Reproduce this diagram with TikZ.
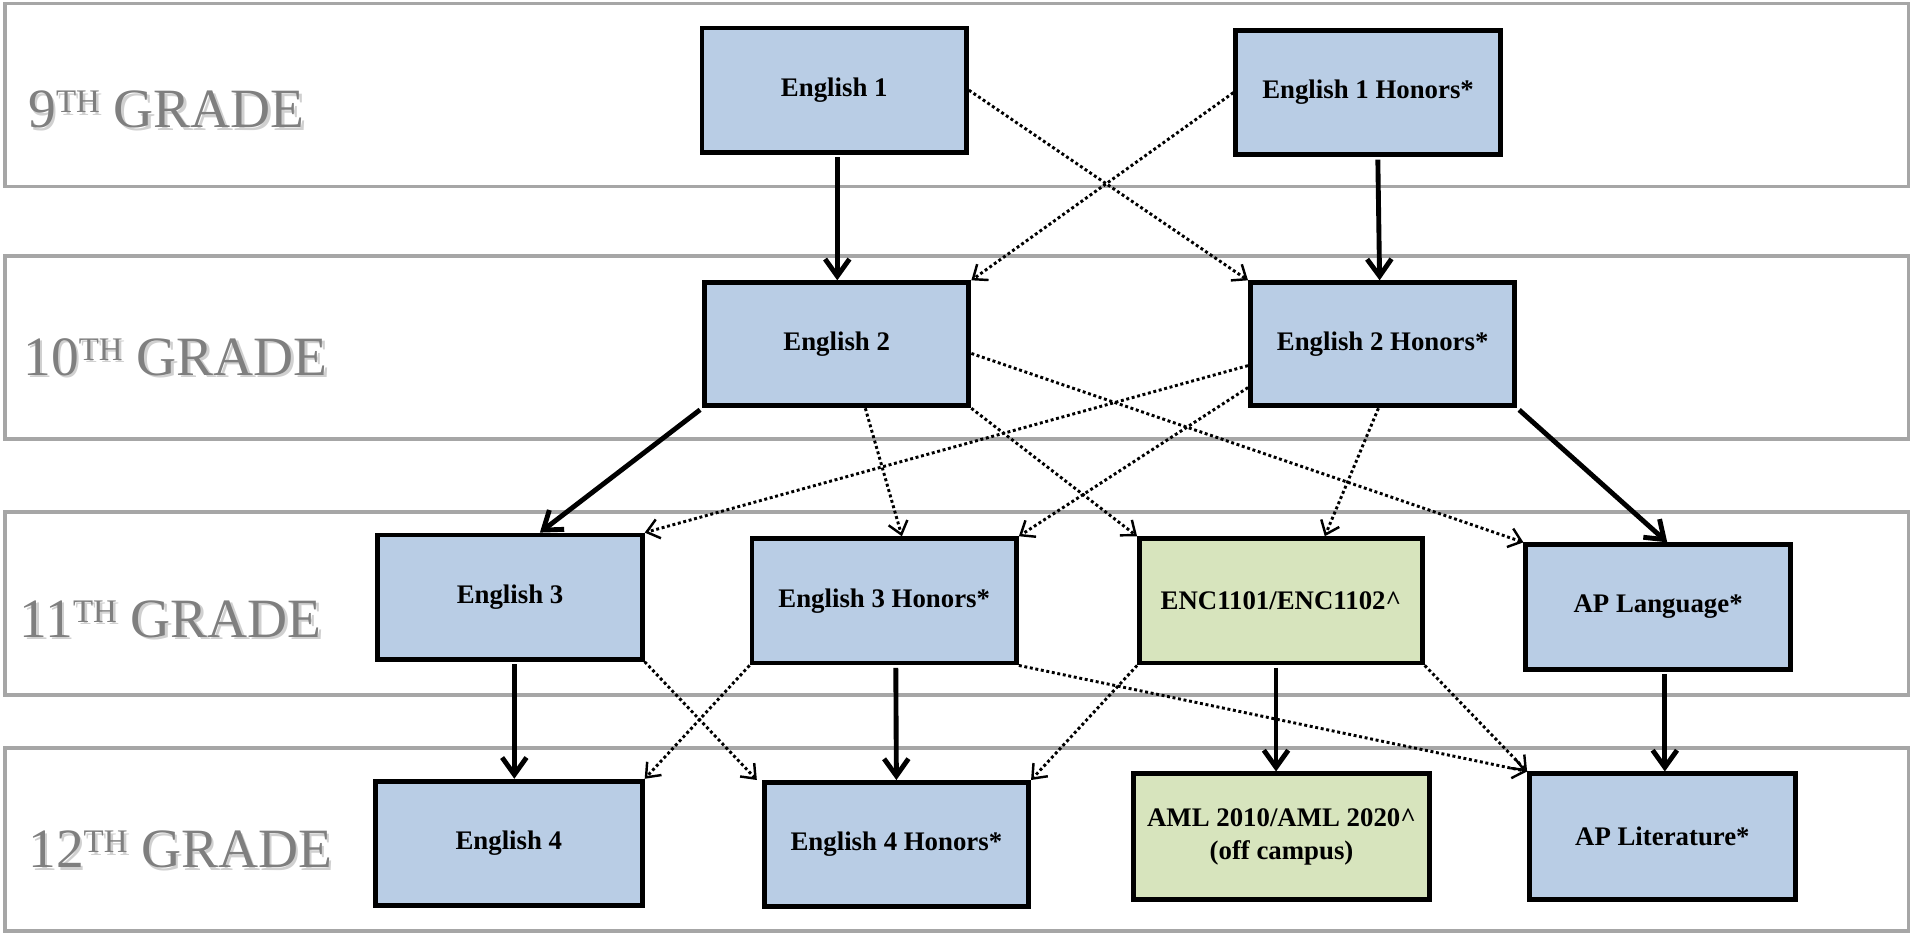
\documentclass[tikz,border=0pt]{standalone}
\usepackage{fontspec}
\setmainfont{Liberation Serif}
\usetikzlibrary{arrows.meta,calc}
\definecolor{boxblue}{HTML}{B9CDE5}
\definecolor{boxgreen}{HTML}{D7E4BD}
\definecolor{bandgray}{HTML}{A6A6A6}
\definecolor{labelgray}{HTML}{7F7F7F}
\definecolor{shadowgray}{HTML}{D0D0D0}
\newcommand\gradetxt[1]{#1\raisebox{12.4pt}{\fontsize{27}{30}\selectfont TH} GRADE}
\begin{document}
\begin{tikzpicture}[x=1pt,y=-1pt,
  course/.style={draw=black, line width=4pt, fill=boxblue, inner sep=0pt,
    minimum width=217pt, minimum height=102pt, align=center,
    font=\fontsize{22}{27}\selectfont\bfseries},
  college/.style={course, fill=boxgreen},
  band/.style={draw=bandgray, line width=3pt},
  gradelbl/.style={anchor=base west, inner sep=0pt, text=labelgray,
    font=\fontsize{45.5}{50}\selectfont},
  gradeshadow/.style={gradelbl, text=shadowgray},
  solidarrow/.style={line width=4pt, shorten <=2pt,
    -{Straight Barb[length=14pt,width=20pt]}},
  dotarrow/.style={line width=2.4pt, dash pattern=on 2.4pt off 2.2pt,
    -{Straight Barb[length=10pt,width=16pt,line width=2pt]}}
]
\useasboundingbox (0,0) rectangle (1568,766);
\fill[white] (0,0) rectangle (1568,766);

% grade bands
\draw[band] (4,3) rectangle (1566,153);
\draw[band] (4,210) rectangle (1566,360);
\draw[band] (4,420) rectangle (1566,570);
\draw[band] (4,614) rectangle (1566,764);

% grade labels (shadow + text)
\node[gradeshadow] (g9s)  at (25,107) {\gradetxt{9}};
\node[gradelbl]    (g9)   at (23,105) {\gradetxt{9}};
\node[gradeshadow] (g10s) at (21,310) {\gradetxt{10}};
\node[gradelbl]    (g10)  at (19,308) {\gradetxt{10}};
\node[gradeshadow] (g11s) at (18,525) {\gradetxt{11}};
\node[gradelbl]    (g11)  at (16,523) {\gradetxt{11}};
\node[gradeshadow] (g12s) at (25,714) {\gradetxt{12}};
\node[gradelbl]    (g12)  at (23,712) {\gradetxt{12}};

% courses
\node[course] (e1)   at (684.5,74)   {English 1};
\node[course] (e1h)  at (1122.5,76)  {English 1 Honors*};
\node[course, minimum height=101pt] (e2)   at (686.5,282.5) {English 2};
\node[course, minimum height=101pt] (e2h)  at (1134.5,282.5) {English 2 Honors*};
\node[course] (e3)   at (418.5,490)  {English 3};
\node[course] (e3h)  at (725.5,493)  {English 3 Honors*};
\node[college, minimum width=232pt] (enc) at (1051,493) {ENC1101/ENC1102\^{}};
\node[course] (apl)  at (1360.5,498) {AP Language*};
\node[course, minimum width=219pt] (e4)   at (417.5,692)  {English 4};
\node[course] (e4h)  at (735.5,693)  {English 4 Honors*};
\node[college, minimum width=243pt, minimum height=103pt] (aml) at (1051.5,686.5) {AML 2010/AML 2020\^{}\\(off campus)};
\node[course, minimum width=218pt, minimum height=103pt] (aplit) at (1364,686.5) {AP Literature*};

% solid (main track) arrows
\draw[solidarrow] ($(e1.south)+(2.5,0)$) -- ($(e2.north)+(0.5,0)$);
\draw[solidarrow] ($(e1h.south)+(8,0)$) -- ($(e2h.north)+(-2.5,0)$);
\draw[solidarrow] (e2.south west) -- ($(e3.north)+(24.5,0)$);
\draw[solidarrow] (e2h.south east) -- ($(apl.north)+(7.5,0)$);
\draw[solidarrow] ($(e3.south)+(3.5,0)$) -- ($(e4.north)+(4.5,0)$);
\draw[solidarrow] ($(e3h.south)+(9.5,0)$) -- (e4h.north);
\draw[solidarrow] ($(enc.south)+(-4,0)$) -- ($(aml.north)+(-4.5,0)$);
\draw[solidarrow] ($(apl.south)+(5.5,0)$) -- ($(aplit.north)+(2,0)$);

% dotted (alternative) arrows
\draw[dotarrow] (e1.east) -- (e2h.north west);
\draw[dotarrow] (e1h.west) -- (e2.north east);
\draw[dotarrow] ($(e2.east)+(0,7.5)$) -- (apl.north west);
\draw[dotarrow] ($(e2.south)+(23.5,0)$) -- ($(e3h.north)+(14.5,0)$);
\draw[dotarrow] (e2.south east) -- (enc.north west);
\draw[dotarrow] ($(e2h.west)+(0,17.5)$) -- (e3.north east);
\draw[dotarrow] ($(e2h.west)+(0,35.5)$) -- (e3h.north east);
\draw[dotarrow] ($(e2h.south)+(-3.5,0)$) -- ($(enc.north)+(36,0)$);
\draw[dotarrow] (e3.south east) -- ($(e4h.north west)+(-4,0)$);
\draw[dotarrow] (e3h.south west) -- (e4.north east);
\draw[dotarrow] (e3h.south east) -- (aplit.north west);
\draw[dotarrow] (enc.south west) -- (e4h.north east);
\draw[dotarrow] (enc.south east) -- (aplit.north west);
\end{tikzpicture}
\end{document}
